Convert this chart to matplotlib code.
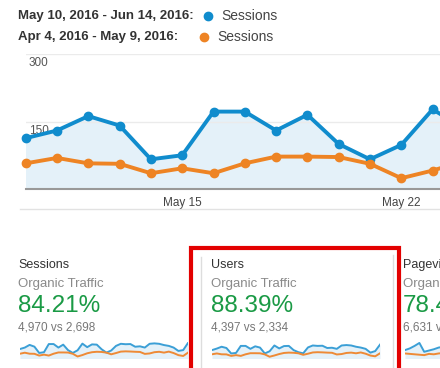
import matplotlib.pyplot as plt
from matplotlib.lines import Line2D
from matplotlib.patches import Rectangle

plt.rcParams['font.family'] = ['Liberation Sans', 'DejaVu Sans']

# 일별 세션 (May 10 ~ Jun 14) / 이전 기간 (Apr 4 ~ May 9)
sessions_cur = [113, 130, 162, 141, 66, 75, 172, 172, 130, 165, 100, 66, 98, 177, 135, 168, 165, 110,
                70, 95, 150, 175, 170, 172, 140, 145, 130, 175, 180, 175, 160, 150, 130, 90, 100, 185]
sessions_prev = [57, 69, 57, 56, 35, 46, 35, 57, 72, 72, 71, 56, 24, 41, 62, 75, 80, 78,
                 70, 50, 65, 82, 85, 83, 80, 78, 55, 60, 75, 80, 70, 82, 65, 40, 30, 70]
users_cur = [100, 118, 140, 125, 60, 66, 150, 150, 115, 145, 130, 60, 86, 155, 120, 148, 150, 100,
             75, 62, 132, 155, 150, 152, 125, 128, 115, 155, 160, 155, 140, 130, 115, 70, 88, 165]
users_prev = [50, 60, 50, 49, 31, 40, 31, 50, 63, 63, 62, 49, 21, 36, 53, 66, 70, 68,
              62, 44, 57, 72, 75, 73, 70, 68, 48, 53, 66, 70, 62, 72, 57, 35, 26, 62]
pageviews_cur = [100, 120, 150, 185, 80, 95, 110, 130, 140]
pageviews_prev = [60, 55, 50, 45, 40, 55, 50, 60, 65]

tick_pos = [5, 12]
tick_labels = ['May 15', 'May 22']

cards = ['Sessions', 'Users', 'Pageviews']
pcts = ['84.21%', '88.39%', '78.40%']
compare = ['4,970 vs 2,698', '4,397 vs 2,334', '6,631 vs 3,717']
spark_cur = [sessions_cur, users_cur, pageviews_cur]
spark_prev = [sessions_prev, users_prev, pageviews_prev]

BLUE = '#108ccd'
ORANGE = '#ee8424'
FILL = '#e4f1f9'
W, H = 440, 368

def fx(px):
    return px / W

def fy(py):
    return 1 - py / H

fig = plt.figure(figsize=(4.4, 3.68), dpi=100)

# 범례 (헤더)
fig.text(fx(18), fy(16), 'May 10, 2016 - Jun 14, 2016:', fontsize=9.5, fontweight='bold', color='#333333', va='center')
fig.text(fx(18), fy(37), 'Apr 4, 2016 - May 9, 2016:', fontsize=9.5, fontweight='bold', color='#333333', va='center')
fig.add_artist(Line2D([fx(208)], [fy(16)], marker='o', ms=6, color=BLUE, transform=fig.transFigure))
fig.add_artist(Line2D([fx(204)], [fy(37)], marker='o', ms=6, color=ORANGE, transform=fig.transFigure))
fig.text(fx(221), fy(16), 'Sessions', fontsize=10, color='#444444', va='center')
fig.text(fx(217), fy(37), 'Sessions', fontsize=10, color='#444444', va='center')

# 메인 차트
x0 = 25.7
step = 31.3
ax = fig.add_axes([fx(x0), fy(189), fx(W - x0), (189 - 54) / H])
days = list(range(len(sessions_cur)))
ax.fill_between(days, sessions_cur, 0, color=FILL, lw=0)
ax.plot(days, sessions_cur, color=BLUE, lw=2.8, marker='o', ms=6, clip_on=False, zorder=3)
ax.plot(days, sessions_prev, color=ORANGE, lw=2.8, marker='o', ms=6, clip_on=False, zorder=4)
ax.set_xlim(0, (W - x0) / step)
ax.set_ylim(0, 300)
ax.set_yticks([])
for v in [150, 300]:
    ax.axhline(v, color='#ebebeb', lw=1, zorder=1)
    ax.annotate(str(v), xy=(0, v), xycoords=('axes fraction', 'data'), xytext=(3, -3),
                textcoords='offset pixels', va='top', ha='left', fontsize=8.5, color='#555555', zorder=2)
for s in ['top', 'right', 'left']:
    ax.spines[s].set_visible(False)
ax.spines['bottom'].set_color('#999999')
ax.spines['bottom'].set_linewidth(1.5)
ax.set_xticks(tick_pos)
ax.set_xticklabels(tick_labels)
ax.tick_params(axis='x', length=0, pad=6, labelsize=8.5, labelcolor='#444444')

fig.add_artist(Line2D([fx(20), 1], [fy(209), fy(209)], color='#e2e2e2', lw=1, transform=fig.transFigure))

# 카드 영역
card_x = [18, 211, 403]
spark_x = [20, 212, 405]
for i in range(3):
    cx = card_x[i]
    fig.text(fx(cx), fy(265), cards[i], fontsize=9, color='#333333', va='center')
    fig.text(fx(cx), fy(284), 'Organic Traffic', fontsize=9.5, color='#8a8a8a', va='center')
    fig.text(fx(cx), fy(306), pcts[i], fontsize=17.5, color='#1a9a45', va='center')
    fig.text(fx(cx), fy(327), compare[i], fontsize=8.5, color='#777777', va='center')

    sx = fig.add_axes([fx(spark_x[i]), fy(358.5), fx(168), 16.8 / H])
    n = list(range(len(spark_cur[i])))
    sx.fill_between(n, spark_cur[i], 0, color=FILL, lw=0)
    sx.plot(n, spark_cur[i], color='#3b9fd6', lw=1.4)
    sx.plot(n, spark_prev[i], color='#ee8a36', lw=1.4)
    sx.set_xlim(0, 35)
    sx.set_ylim(0, 200)
    sx.axis('off')

# 카드 구분선 + 빨간 강조 박스
fig.add_artist(Line2D([fx(201), fx(201)], [fy(257), 0], color='#dddddd', lw=1, transform=fig.transFigure))
fig.add_artist(Line2D([fx(393), fx(393)], [fy(255), 0], color='#dddddd', lw=1, transform=fig.transFigure))
fig.add_artist(Rectangle((fx(191), fy(380)), fx(208), (380 - 248) / H, fill=False,
                         edgecolor='#e30000', lw=3, transform=fig.transFigure))

plt.savefig('out.png', dpi=100)
